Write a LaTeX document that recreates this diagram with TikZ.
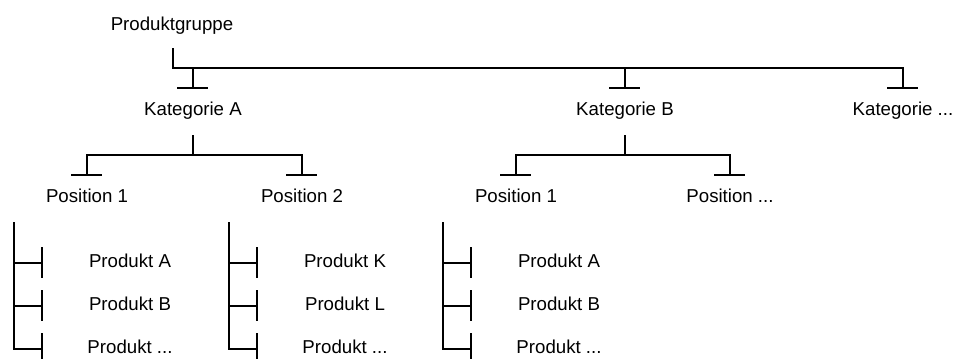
\documentclass[tikz,border=0pt]{standalone}
\usepackage{fontspec}
\setmainfont{Liberation Sans}
\usetikzlibrary{calc}

\tikzset{
  lbl/.style={anchor=base, inner sep=0pt, font=\fontsize{14}{16}\selectfont},
  tree/.style={line width=1.5pt},
}

\begin{document}
\begin{tikzpicture}[x=0.75pt,y=-0.75pt]
    \useasboundingbox (0,0) rectangle (957,358);

    % Ebene 0 und 1
    \node[lbl] (pg) at (172,30) {Produktgruppe};
    \node[lbl] (ka) at (193,115) {Kategorie A};
    \node[lbl] (kb) at (625,115) {Kategorie B};
    \node[lbl] (kx) at (903,115) {Kategorie ...};

    % Ebene 2
    \node[lbl] (a1) at (87,202) {Position 1};
    \node[lbl] (a2) at (302,202) {Position 2};
    \node[lbl] (b1) at (516,202) {Position 1};
    \node[lbl] (bx) at (730,202) {Position ...};

    % Produkte
    \node[lbl] (a1-1) at (130,267) {Produkt A};
    \node[lbl] (a1-2) at (130,310) {Produkt B};
    \node[lbl] (a1-3) at (130,353) {Produkt ...};
    \node[lbl] (a2-1) at (345,267) {Produkt K};
    \node[lbl] (a2-2) at (345,310) {Produkt L};
    \node[lbl] (a2-3) at (345,353) {Produkt ...};
    \node[lbl] (b1-1) at (559,267) {Produkt A};
    \node[lbl] (b1-2) at (559,310) {Produkt B};
    \node[lbl] (b1-3) at (559,353) {Produkt ...};

    % Klammer oben
    \coordinate (pg-foot) at ($(pg.base)+(1,18)$);
    \draw[tree] (pg-foot) |- ($(kx.base)+(0,-47)$) -- ++(0,20);
    \draw[tree] ($(ka.base)+(0,-47)$) -- ++(0,20);
    \draw[tree] ($(kb.base)+(0,-47)$) -- ++(0,20);

    % Klammern unter den Kategorien
    \draw[tree] ($(ka.base)+(0,20)$) -- ++(0,20);
    \draw[tree] ($(a1.base)+(0,-27)$) |- ($(ka.base)+(0,40)$) -| ($(a2.base)+(0,-27)$);
    \draw[tree] ($(kb.base)+(0,20)$) -- ++(0,20);
    \draw[tree] ($(b1.base)+(0,-27)$) |- ($(kb.base)+(0,40)$) -| ($(bx.base)+(0,-27)$);

    % Querbalken
    \foreach \k in {ka,kb,kx,a1,a2,b1,bx}
        \draw[tree] ($(\k.base)+(-16,-27)$) -- ++(31,0);

    % Leitern
    \foreach \p in {a1,a2,b1} {
        \coordinate (\p-l) at ($(\p.base)+(-73,20)$);
        \coordinate (\p-t) at ($(\p.base)+(-45,0)$);
        \draw[tree] (\p-l) |- (\p-t |- \p-3.mid);
        \foreach \n in {1,2}
            \draw[tree] (\p-l |- \p-\n.mid) -- (\p-t |- \p-\n.mid);
        \foreach \n in {1,2,3}
            \draw[tree] ($(\p-t |- \p-\n.mid)+(0,-16)$) -- ++(0,31);
    }

\end{tikzpicture}
\end{document}
